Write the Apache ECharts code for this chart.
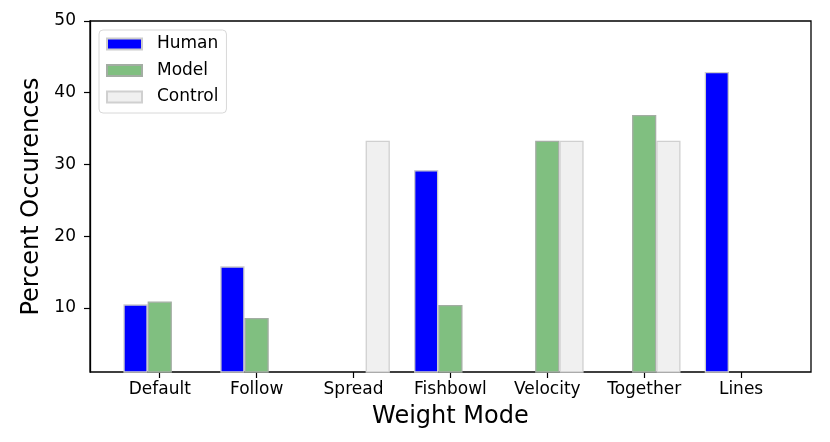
<!DOCTYPE html>
<html>
<head>
<meta charset="utf-8">
<script src="https://cdn.jsdelivr.net/npm/echarts@6.0.0/dist/echarts.min.js"></script>
<style>html,body{margin:0;padding:0;background:#fff;}#c{width:830px;height:442px;}</style>
</head>
<body>
<div id="c"></div>
<script>
const categories = ['Default', 'Follow', 'Spread', 'Fishbowl', 'Velocity', 'Together', 'Lines'];
const human   = [10.5, 15.8, 0, 29.2, 0, 0, 42.9];
const model   = [10.9, 8.6, 0, 10.4, 33.3, 36.9, 0];
const control = [0, 0, 33.3, 0, 33.3, 33.3, 0];
const yTicks  = [10, 20, 30, 40, 50];
const yMin = 1.07, yMax = 50;

const FONT = 'DejaVu Sans';
const chart = echarts.init(document.getElementById('c'), null, {renderer: 'canvas'});
const barSeries = (name, data, color, edge) => ({
  name, type: 'bar', data, xAxisIndex: 1, yAxisIndex: 1,
  barWidth: '25%', barGap: '0%',
  itemStyle: {color, borderColor: edge, borderWidth: 1.3},
  emphasis: {disabled: true}
});
chart.setOption({
  animation: false,
  backgroundColor: '#fff',
  textStyle: {fontFamily: FONT},
  grid: [
    {left: 90, top: 21, right: 19, bottom: 70, show: true, borderColor: '#000', borderWidth: 1.3, backgroundColor: 'transparent'},
    {left: 111.3, top: 21, width: 678.2, bottom: 70}
  ],
  legend: {
    orient: 'vertical', left: 99, top: 30,
    data: ['Human', 'Model', 'Control'],
    itemWidth: 35, itemHeight: 11, itemGap: 8.5,
    borderColor: '#d8d8d8', borderWidth: 1, borderRadius: 4,
    padding: [5, 8, 7, 7],
    icon: 'rect',
    textStyle: {fontFamily: FONT, fontSize: 17, color: '#000', lineHeight: 18, padding: [0, 0, 0, 10]}
  },
  xAxis: [
    {type: 'value', gridIndex: 0, min: 0, max: 1, show: false},
    {type: 'category', gridIndex: 1, data: categories,
      axisLine: {show: false},
      axisTick: {show: true, alignWithLabel: true, length: 6, lineStyle: {color: '#000', width: 1.2}},
      axisLabel: {fontFamily: FONT, fontSize: 17, color: '#000', margin: 9},
      name: 'Weight Mode', nameLocation: 'middle', nameGap: 33,
      nameTextStyle: {fontFamily: FONT, fontSize: 24, color: '#000'}
    }
  ],
  yAxis: [
    {type: 'value', gridIndex: 0, min: yMin, max: yMax,
      axisLine: {show: true, lineStyle: {color: '#000', width: 1.3}},
      splitLine: {show: false},
      axisTick: {show: true, length: 6, customValues: yTicks, lineStyle: {color: '#000', width: 1.2}},
      axisLabel: {fontFamily: FONT, fontSize: 17, color: '#000', margin: 14, customValues: yTicks},
      name: 'Percent Occurences', nameLocation: 'middle', nameGap: 34, nameRotate: 90,
      nameTextStyle: {fontFamily: FONT, fontSize: 24, color: '#000'}
    },
    {type: 'value', gridIndex: 1, min: yMin, max: yMax, show: false, splitLine: {show: false}}
  ],
  series: [
    barSeries('Human', human, '#0000ff', '#cccccc'),
    barSeries('Model', model, '#80bf80', '#a3ada3'),
    barSeries('Control', control, '#f0f0f0', '#d0d0d0')
  ]
});
</script>
</body>
</html>
